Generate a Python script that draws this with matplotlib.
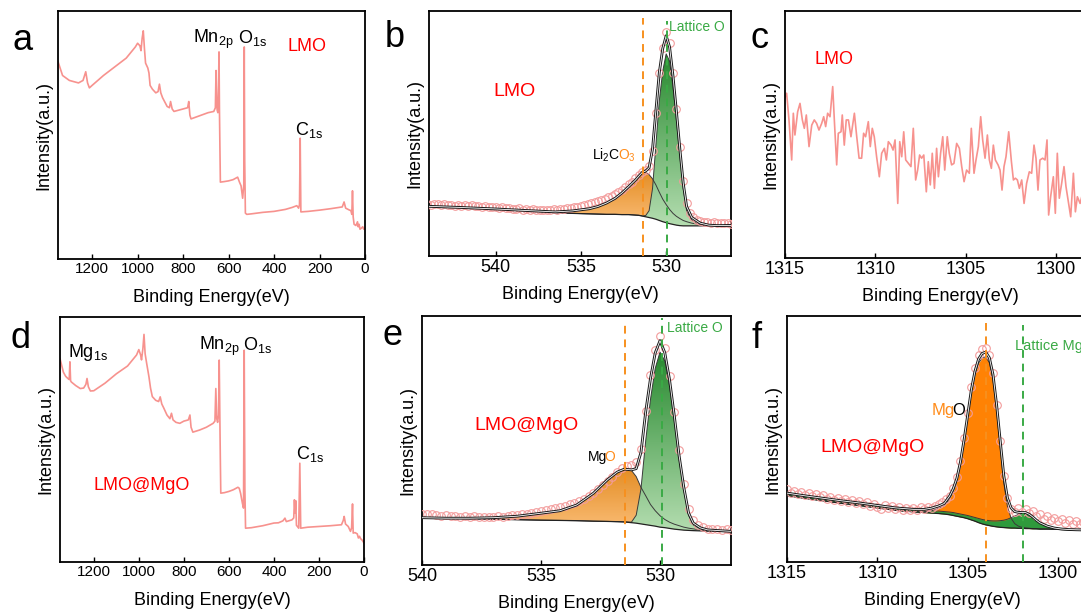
import numpy as np
import matplotlib
matplotlib.use('Agg')
import matplotlib.pyplot as plt
from matplotlib.patches import Polygon
from matplotlib.colors import LinearSegmentedColormap

plt.rcParams['font.family'] = ['Liberation Sans', 'DejaVu Sans']
plt.rcParams['mathtext.fontset'] = 'custom'
plt.rcParams['mathtext.rm'] = 'Liberation Sans'
plt.rcParams['mathtext.it'] = 'Liberation Sans:italic'

# ---------------- survey spectra (a, d) ----------------
surv_a_E = [1350, 1330, 1300, 1280, 1260, 1240, 1228, 1220, 1212, 1200,
            1150, 1100, 1050, 1010, 1000, 990, 985, 980, 975, 970,
            965, 955, 950, 945, 935, 920, 910, 904, 898, 890,
            870, 860, 855, 848, 840, 820, 800, 780, 775, 770,
            765, 750, 720, 690, 665, 658, 655, 652, 650, 647,
            644, 642, 640, 638, 636, 620, 600, 580, 560, 552,
            545, 538, 533, 531, 529, 526, 520, 500, 450, 400,
            350, 320, 300, 292, 288, 285, 282, 280, 250, 200,
            150, 100, 92, 85, 70, 62, 58, 55, 52, 48,
            40, 33, 30, 26, 22, 15, 10, 5, 0]
surv_a_I = [79.6, 74.0, 72.0, 71.5, 71.0, 72.0, 75.5, 71.0, 69.0, 70.0,
            74.0, 77.5, 81.0, 85.5, 87.0, 86.0, 84.0, 89.0, 92.0, 85.0,
            79.0, 77.0, 75.0, 70.0, 68.5, 67.0, 67.5, 70.5, 67.0, 65.0,
            61.5, 61.0, 63.5, 60.5, 59.5, 60.0, 60.5, 61.0, 63.5, 58.0,
            56.5, 57.0, 58.0, 59.0, 59.5, 61.0, 76.0, 62.0, 60.0, 59.0,
            70.0, 83.5, 60.0, 45.0, 31.0, 31.2, 31.5, 32.0, 33.0, 31.0,
            29.5, 24.5, 30.0, 85.5, 40.0, 18.5, 18.0, 18.2, 18.8, 19.2,
            20.0, 20.8, 21.5, 20.5, 22.0, 48.7, 19.0, 19.0, 19.2, 19.7,
            20.3, 21.0, 23.0, 20.5, 19.8, 19.5, 18.0, 27.5, 17.0, 14.0,
            13.5, 15.0, 13.0, 14.0, 12.0, 12.5, 13.0, 12.0, 12.3]

surv_d_E = [1350, 1335, 1325, 1315, 1309, 1306, 1303, 1300, 1280, 1260,
            1245, 1235, 1230, 1224, 1215, 1200, 1150, 1100, 1050, 1010,
            1000, 992, 988, 982, 977, 972, 965, 955, 948, 940,
            925, 912, 905, 898, 890, 875, 862, 855, 848, 835,
            818, 800, 780, 773, 768, 760, 729, 700, 670, 662,
            658, 654, 650, 646, 643, 640, 638, 636, 620, 600,
            580, 560, 554, 548, 540, 535, 532, 529, 526, 500,
            450, 400, 380, 360, 351, 345, 320, 312, 309, 306,
            303, 300, 290, 285, 281, 250, 200, 150, 100, 92,
            88, 82, 70, 60, 55, 51, 48, 40, 30, 25,
            20, 15, 10, 5, 0]
surv_d_I = [83.0, 77.5, 75.8, 74.9, 74.5, 81.7, 74.0, 73.5, 72.0, 70.8,
            71.0, 72.5, 74.9, 71.5, 69.8, 69.9, 73.0, 76.8, 80.0, 84.5,
            86.7, 84.5, 82.5, 87.0, 92.9, 85.0, 81.0, 75.6, 71.0, 67.5,
            66.0, 65.5, 67.4, 64.5, 63.0, 60.0, 58.5, 60.7, 58.0, 57.0,
            56.6, 57.5, 58.0, 60.0, 55.0, 53.0, 53.9, 55.0, 56.6, 57.5,
            70.8, 58.5, 57.0, 60.0, 82.4, 58.0, 42.0, 28.1, 28.3, 28.8,
            29.5, 30.5, 30.1, 28.0, 24.0, 22.0, 86.4, 30.0, 13.8, 14.0,
            14.8, 15.9, 16.0, 16.8, 17.9, 16.5, 17.2, 18.0, 25.4, 20.0,
            25.0, 15.0, 13.8, 40.3, 13.8, 14.2, 14.5, 14.8, 15.2, 17.0,
            18.6, 15.5, 14.5, 12.5, 14.0, 23.7, 11.8, 12.0, 11.5, 9.8,
            10.5, 9.5, 9.1, 8.5, 7.7]

# ---------------- O 1s, LMO (b) ----------------
b_E = [544, 542, 540, 538, 536.5, 535.5, 534.5, 534, 533.5, 533,
       532.6, 532.2, 531.8, 531.6, 531.4, 531.2, 531.0, 530.8, 530.6, 530.4,
       530.2, 530.0, 529.8, 529.6, 529.4, 529.2, 529.0, 528.8, 528.5, 528.0,
       527.5, 527, 526]
b_bg = [20.3, 19.8, 19.2, 18.4, 17.7, 17.4, 17.2, 17.1, 17.0, 17.0,
        16.9, 16.9, 16.7, 16.6, 16.3, 16.0, 15.7, 15.4, 15.0, 14.5,
        14.0, 13.6, 13.2, 12.9, 12.6, 12.4, 12.3, 12.3, 12.3, 12.3,
        12.4, 12.4, 12.5]
b_li2co3 = [20.3, 19.8, 19.2, 18.5, 18.0, 18.4, 19.3, 20.2, 21.6, 23.5,
            25.7, 28.3, 31.0, 32.6, 34.0, 34.2, 33.2, 31.5, 29.0, 26.0,
            23.2, 21.0, 19.0, 17.4, 16.2, 15.3, 14.5, 14.0, 13.4, 12.8,
            12.5, 12.4, 12.5]
b_latt = [20.3, 19.8, 19.2, 18.4, 17.7, 17.4, 17.2, 17.1, 17.0, 17.0,
          16.9, 16.9, 16.7, 16.6, 16.4, 16.5, 18.5, 27.5, 45.5, 63.5,
          75.5, 82.5, 79.5, 69.0, 55.5, 41.0, 27.5, 18.5, 14.6, 12.9,
          12.5, 12.4, 12.5]
b_scan_start = 544.0
b_scan = [21.3, 21.0, 21.4, 21.1, 20.8, 21.2, 20.9, 21.0, 20.6, 20.9,
          20.5, 20.8, 20.4, 20.7, 20.3, 20.6, 20.1, 20.4, 19.9, 20.2,
          19.8, 19.6, 19.9, 19.4, 19.7, 19.3, 19.0, 19.4, 18.9, 19.2,
          18.8, 19.1, 18.7, 18.9, 18.6, 18.9, 18.7, 19.0, 18.8, 19.2,
          19.0, 19.4, 19.6, 19.8, 20.2, 20.4, 20.9, 21.2, 21.5, 22.0,
          22.3, 22.9, 23.4, 23.9, 24.6, 25.2, 26.0, 26.9, 28.0, 29.2,
          30.4, 31.8, 33.0, 34.4, 35.3, 36.8, 43.0, 58.5, 74.5, 85.0,
          91.5, 87.0, 74.5, 60.0, 44.5, 30.5, 21.5, 17.5, 15.8, 14.8,
          14.2, 13.8, 13.9, 13.5, 13.7, 13.4, 13.6, 13.3, 13.5, 13.2,
          13.4]

# ---------------- Mg 1s, LMO (c) ----------------
c_E = [1315.00, 1314.91, 1314.78, 1314.63, 1314.54, 1314.45, 1314.30, 1314.17, 1314.04, 1313.93, 1313.82,
       1313.67, 1313.52, 1313.38, 1313.25, 1313.12, 1312.97, 1312.86, 1312.75, 1312.64, 1312.51,
       1312.36, 1312.27, 1312.14, 1312.05, 1311.90, 1311.83, 1311.72, 1311.61, 1311.49, 1311.35,
       1311.16, 1311.03, 1310.90, 1310.76, 1310.65, 1310.54, 1310.39, 1310.28, 1310.17, 1310.06,
       1309.93, 1309.78, 1309.65, 1309.50, 1309.39, 1309.28, 1309.13, 1309.02, 1308.91, 1308.76,
       1308.65, 1308.54, 1308.43, 1308.32, 1308.17, 1308.03, 1307.90, 1307.77, 1307.66, 1307.55,
       1307.44, 1307.32, 1307.18, 1307.07, 1306.96, 1306.85, 1306.73,
       1306.61, 1306.51, 1306.39, 1306.27, 1306.16, 1306.02, 1305.91, 1305.78, 1305.65, 1305.50,
       1305.35, 1305.22, 1305.09, 1304.95, 1304.80, 1304.69, 1304.54, 1304.43, 1304.30, 1304.17,
       1304.06, 1303.93, 1303.80, 1303.69, 1303.58, 1303.47, 1303.36, 1303.21, 1303.10, 1302.99,
       1302.88, 1302.77, 1302.62, 1302.47, 1302.36, 1302.25, 1302.14, 1302.03, 1301.90, 1301.77,
       1301.63, 1301.48, 1301.35, 1301.22, 1301.11, 1301.00, 1300.89, 1300.74, 1300.61, 1300.50,
       1300.41, 1300.30, 1300.15, 1300.04, 1299.93, 1299.82, 1299.69, 1299.56, 1299.45, 1299.32,
       1299.19, 1299.04, 1298.93, 1298.82, 1298.67, 1298.50]
c_I = [65.0, 66.7, 55.9, 39.7, 58.6, 49.8, 59.2, 62.6, 55.9, 52.5, 57.9,
       45.1, 53.8, 55.9, 54.5, 51.8, 54.5, 57.2, 53.2, 58.6, 57.2,
       69.4, 55.9, 37.7, 50.5, 51.1, 57.9, 45.7, 55.9, 55.9, 49.1,
       58.6, 49.1, 40.4, 40.4, 50.5, 49.1, 55.2, 45.1, 52.5, 49.1,
       41.0, 32.9, 42.4, 44.4, 39.7, 47.1, 45.7, 43.7, 47.8, 22.1,
       47.1, 41.0, 51.1, 39.7, 38.3, 37.0, 52.5, 31.6, 35.6, 41.7,
       40.4, 41.7, 26.8, 39.0, 29.6, 42.4, 28.2,
       44.4, 32.9, 42.4, 49.1, 35.6, 49.1, 42.4, 37.7, 38.3, 46.4,
       44.4, 37.0, 30.9, 35.6, 34.3, 52.5, 34.3, 39.7, 45.1, 57.2,
       47.8, 40.4, 49.8, 39.7, 36.3, 45.7, 39.7, 37.7, 35.6, 27.5,
       37.0, 41.0, 51.1, 39.0, 31.6, 32.3, 31.6, 28.2, 31.6, 22.1,
       30.2, 34.9, 34.3, 45.7, 40.4, 27.5, 39.7, 40.4, 39.7, 47.8,
       17.4, 24.8, 32.9, 18.1, 42.4, 24.2, 30.2, 37.0, 28.9, 22.8,
       16.7, 34.3, 18.7, 24.8, 22.1, 27.0]

# ---------------- O 1s, LMO@MgO (e) ----------------
e_E = [540, 539, 538, 537, 536, 535, 534.2, 533.5, 532.8, 532.2,
       531.8, 531.5, 531.2, 531.0, 530.8, 530.6, 530.4, 530.2, 530.0, 529.8,
       529.6, 529.4, 529.2, 529.0, 528.8, 528.6, 528.3, 528, 527]
e_bg = [19.0, 18.8, 18.6, 18.4, 18.2, 18.0, 17.9, 17.8, 17.6, 17.5,
        17.4, 17.3, 17.0, 16.8, 16.5, 16.2, 15.9, 15.6, 15.2, 15.0,
        14.7, 14.4, 14.2, 14.0, 13.9, 13.8, 13.7, 13.6, 13.4]
e_mgo = [19.0, 18.8, 18.8, 19.0, 19.6, 20.8, 21.8, 24.1, 28.8, 34.3,
         37.3, 38.5, 38.0, 35.5, 31.2, 27.8, 24.3, 21.8, 19.8, 18.3,
         17.2, 16.4, 15.8, 15.2, 14.8, 14.5, 14.1, 13.9, 13.5]
e_latt = [19.0, 18.8, 18.6, 18.4, 18.2, 18.0, 17.9, 17.8, 17.6, 17.5,
          17.4, 17.3, 17.2, 20.0, 30.5, 50.0, 66.5, 79.0, 85.5, 82.0,
          72.0, 58.0, 42.5, 30.0, 20.0, 16.1, 14.5, 13.8, 13.4]
e_scan_start = 540.0
e_scan = [20.6, 20.3, 20.5, 20.1, 19.8, 20.0, 19.6, 19.8, 19.4, 19.6,
          19.3, 19.5, 19.2, 19.4, 19.1, 19.4, 19.6, 19.4, 19.8, 20.0,
          20.2, 20.5, 20.4, 20.9, 21.2, 21.6, 22.0, 22.4, 22.8, 23.3,
          23.8, 24.4, 25.0, 25.8, 26.7, 27.7, 28.9, 30.4, 32.0, 33.8,
          35.5, 37.3, 38.8, 39.8, 40.3, 41.5, 46.5, 62.0, 76.5, 86.5,
          92.0, 87.0, 76.0, 61.5, 46.0, 32.5, 22.5, 18.0, 16.0, 15.2,
          14.6, 14.3, 14.5, 14.1, 14.3, 14.0]

# ---------------- Mg 1s, LMO@MgO (f) ----------------
f_E = [1315, 1314, 1313, 1312, 1311, 1310, 1309, 1308, 1307.4, 1307,
       1306.6, 1306.3, 1306, 1305.8, 1305.6, 1305.4, 1305.2, 1305.0, 1304.8, 1304.6,
       1304.4, 1304.2, 1304.0, 1303.8, 1303.6, 1303.4, 1303.2, 1303.0, 1302.8, 1302.6,
       1302.4, 1302.2, 1302.0, 1301.8, 1301.6, 1301.4, 1301.2, 1301.0, 1300.6, 1300.2,
       1299.8, 1299.4, 1299, 1298.4]
f_bg = [27.0, 25.9, 24.9, 23.9, 23.0, 22.0, 21.0, 20.4, 20.1, 19.9,
        19.7, 19.5, 19.2, 18.9, 18.6, 18.3, 18.0, 17.6, 17.1, 16.6,
        16.0, 15.5, 15.1, 14.8, 14.5, 14.3, 14.1, 14.0, 13.9, 13.8,
        13.8, 13.7, 13.7, 13.6, 13.6, 13.5, 13.5, 13.4, 13.4, 13.3,
        13.2, 13.1, 13.1, 13.0]
f_mgo = [27.0, 25.9, 24.9, 23.9, 23.0, 22.0, 21.0, 20.4, 20.4, 20.9,
         21.8, 22.8, 25.7, 28.6, 32.8, 39.5, 48.5, 58.5, 68.5, 76.0,
         80.8, 83.0, 83.4, 81.0, 74.0, 61.5, 46.5, 32.0, 22.5, 17.8,
         15.6, 14.6, 14.1, 13.9, 13.7, 13.6, 13.5, 13.4, 13.4, 13.3,
         13.2, 13.1, 13.1, 13.0]
f_latt = [28.0, 26.9, 25.9, 24.9, 24.0, 23.0, 22.0, 21.4, 21.1, 20.9,
          20.7, 20.5, 20.3, 20.1, 19.8, 19.5, 19.2, 18.9, 18.5, 18.1,
          17.7, 17.3, 17.0, 16.8, 16.7, 16.7, 16.8, 17.0, 17.4, 18.0,
          18.7, 19.3, 19.7, 19.8, 19.3, 18.2, 17.0, 15.9, 14.6, 13.8,
          13.4, 13.2, 13.1, 13.0]
f_scan_start = 1315.0
f_scan = [29.5, 28.2, 29.0, 27.8, 28.6, 27.4, 28.0, 26.9, 27.6, 26.5,
          27.2, 25.8, 26.6, 25.4, 26.0, 24.8, 25.6, 24.3, 25.1, 23.8,
          24.6, 23.4, 24.2, 22.8, 23.6, 22.4, 21.5, 23.0, 21.8, 22.6,
          21.4, 22.3, 21.0, 21.9, 21.2, 22.0, 21.3, 22.2, 21.5, 22.4,
          21.8, 22.9, 23.5, 24.3, 25.6, 27.0, 30.0, 34.5, 41.0, 50.5,
          60.5, 71.0, 79.0, 84.0, 86.5, 86.8, 84.0, 77.0, 64.0, 49.0,
          35.0, 26.0, 21.5, 20.5, 21.8, 20.2, 21.4, 19.8, 20.6, 18.5,
          19.5, 17.6, 18.8, 16.9, 18.0, 16.5, 17.4, 15.8, 17.0, 15.5,
          16.6, 15.3, 16.2, 15.0]
scan_step = 0.2

# peak positions (dashed markers)
b_peaks = [531.33, 529.96]
e_peaks = [531.47, 529.93]
f_peaks = [1303.99, 1301.92]

SURVEY = '#F7928E'
PINK = '#F39C9C'
ORANGE_TXT = '#FF8C1A'
GREEN_TXT = '#3AAA45'
W, H = 1081, 613


def box(l, t, w, h):
    return [l / W, 1 - (t + h) / H, w / W, h / H]


def style(ax, w, h, xlim, ticks, tsize, xc=0.5):
    ax.set_xlim(*xlim)
    ax.set_ylim(0, 100)
    ax.set_yticks([])
    ax.set_xticks(ticks)
    ax.tick_params(axis='x', direction='in', length=3.5, width=1.0,
                   labelsize=tsize, pad=2.5)
    for s in ax.spines.values():
        s.set_linewidth(1.3)
    ax.set_xlabel('Binding Energy(eV)', fontsize=13)
    ax.set_ylabel('Intensity(a.u.)', fontsize=13)
    ax.xaxis.set_label_coords(xc, -30.0 / h)
    ax.yaxis.set_label_coords(-5.7 / w, 0.5)


def gradient_fill(ax, x, lo, hi, c_top, c_bot, z):
    x = np.asarray(x); lo = np.asarray(lo); hi = np.asarray(hi)
    verts = np.column_stack([np.r_[x, x[::-1]], np.r_[hi, lo[::-1]]])
    patch = Polygon(verts, closed=True, fc='none', ec='none', transform=ax.transData)
    ax.add_patch(patch)
    cmap = LinearSegmentedColormap.from_list('g', [c_bot, c_top])
    im = ax.imshow(np.linspace(0, 1, 128).reshape(-1, 1), cmap=cmap, origin='lower',
                   aspect='auto', extent=[x.min(), x.max(), lo.min(), hi.max()],
                   zorder=z, interpolation='bilinear')
    im.set_clip_path(patch)


def fit_panel(ax, E, bg, c1, c2, scan_start, scan, peaks, ytop, gradient=True):
    E = np.asarray(E); bg = np.asarray(bg); c1 = np.asarray(c1); c2 = np.asarray(c2)
    if gradient:
        gradient_fill(ax, E, bg, c1, '#E48E26', '#FBBE78', 2)
        gradient_fill(ax, E, bg, c2, '#27892F', '#B4DDB0', 3)
    else:
        ax.fill_between(E, bg, c1, color='#FF8204', lw=0, zorder=2)
        ax.fill_between(E, bg, c2, color='#2F9A3C', lw=0, zorder=3)
    ax.plot(E, c1, color='#3a3a3a', lw=0.7, zorder=4)
    ax.plot(E, c2, color='#3a3a3a', lw=0.7, zorder=4)
    ax.plot(E, bg, color='#222222', lw=0.9, zorder=4)
    sE = scan_start - scan_step * np.arange(len(scan))
    ax.plot(sE, scan, 'o', mfc='none', mec=PINK, ms=5.5, mew=0.8, zorder=5)
    env = c1 + c2 - bg
    ax.plot(E, env, color='#1a1a1a', lw=2.0, zorder=6)
    ax.plot(E, env, color='white', lw=0.6, zorder=7)
    ax.axvline(peaks[0], 0, ytop[0], color='#F7901E', ls=(0, (4, 3)), lw=1.4, zorder=8)
    ax.axvline(peaks[1], 0, ytop[1], color='#3AAA45', ls=(0, (4, 3)), lw=1.4, zorder=8)


def two_tone(ax, parts, xy, size):
    # pieces of one label in different colours, set side by side on one baseline
    r = fig.canvas.get_renderer()
    x, y = xy
    for s, c in parts:
        t = ax.text(x, y, s, transform=ax.transAxes, fontsize=size, color=c,
                    va='baseline', ha='left', zorder=10)
        bb = t.get_window_extent(r)
        x = ax.transAxes.inverted().transform((bb.x1 - 3.0, bb.y0))[0]


fig = plt.figure(figsize=(W / 100, H / 100), dpi=100)

# a
ax = fig.add_axes(box(58, 11, 307, 248))
ax.plot(surv_a_E, surv_a_I, color=SURVEY, lw=1.2)
style(ax, 307, 248, (1350, 0), [1200, 1000, 800, 600, 400, 200, 0], 11)
ax.text(0.44, 0.87, r'$\mathregular{Mn_{2p}}$', transform=ax.transAxes, fontsize=13, va='baseline')
ax.text(0.586, 0.87, r'$\mathregular{O_{1s}}$', transform=ax.transAxes, fontsize=13, va='baseline')
ax.text(0.772, 0.50, r'$\mathregular{C_{1s}}$', transform=ax.transAxes, fontsize=13, va='baseline')
ax.text(0.746, 0.84, 'LMO', transform=ax.transAxes, fontsize=13, color='red', va='baseline')

# b
ax = fig.add_axes(box(429, 11, 302, 245))
fit_panel(ax, b_E, b_bg, b_li2co3, b_latt, b_scan_start, b_scan, b_peaks, (0.97, 0.96))
style(ax, 302, 245, (543.9, 526.2), [540, 535, 530], 13)
ax.text(0.2145, 0.653, 'LMO', transform=ax.transAxes, fontsize=14, color='red', va='baseline')
two_tone(ax, [('Li$_2$C', 'black'), ('O$_3$', ORANGE_TXT)], (0.541, 0.392), 10)
ax.text(0.795, 0.935, 'Lattice O', transform=ax.transAxes, fontsize=10, color=GREEN_TXT, va='center')

# c
ax = fig.add_axes(box(785, 11, 361.4, 247))
ax.plot(c_E, c_I, color=SURVEY, lw=1.2)
style(ax, 361.4, 247, (1315, 1295), [1315, 1310, 1305, 1300], 13, xc=0.429)
ax.text(0.083, 0.784, 'LMO', transform=ax.transAxes, fontsize=13, color='red', va='baseline')

# d
ax = fig.add_axes(box(60, 317, 304, 245))
ax.plot(surv_d_E, surv_d_I, color=SURVEY, lw=1.2)
style(ax, 304, 245, (1350, 0), [1200, 1000, 800, 600, 400, 200, 0], 11)
ax.text(0.026, 0.838, r'$\mathregular{Mg_{1s}}$', transform=ax.transAxes, fontsize=13, va='baseline')
ax.text(0.457, 0.865, r'$\mathregular{Mn_{2p}}$', transform=ax.transAxes, fontsize=13, va='baseline')
ax.text(0.602, 0.865, r'$\mathregular{O_{1s}}$', transform=ax.transAxes, fontsize=13, va='baseline')
ax.text(0.776, 0.419, r'$\mathregular{C_{1s}}$', transform=ax.transAxes, fontsize=13, va='baseline')
ax.text(0.109, 0.294, 'LMO@MgO', transform=ax.transAxes, fontsize=13, color='red', va='baseline')

# e
ax = fig.add_axes(box(422, 316, 309.4, 249))
fit_panel(ax, e_E, e_bg, e_mgo, e_latt, e_scan_start, e_scan, e_peaks, (0.976, 0.99))
style(ax, 309.4, 249, (540, 527), [540, 535, 530], 13)
ax.text(0.168, 0.542, 'LMO@MgO', transform=ax.transAxes, fontsize=14, color='red', va='baseline')
two_tone(ax, [('Mg', 'black'), ('O', ORANGE_TXT)], (0.5365, 0.418), 10)
ax.text(0.792, 0.952, 'Lattice O', transform=ax.transAxes, fontsize=10, color=GREEN_TXT, va='center')

# f
ax = fig.add_axes(box(787, 316, 361.4, 246))
fit_panel(ax, f_E, f_bg, f_mgo, f_latt, f_scan_start, f_scan, f_peaks, (0.97, 0.963), gradient=False)
style(ax, 361.4, 246, (1315, 1295), [1315, 1310, 1305, 1300], 13, xc=0.429)
ax.text(0.0913, 0.448, 'LMO@MgO', transform=ax.transAxes, fontsize=14, color='red', va='baseline')
two_tone(ax, [('Mg', ORANGE_TXT), ('O', 'black')], (0.401, 0.598), 12)
ax.text(0.631, 0.878, 'Lattice Mg', transform=ax.transAxes, fontsize=10.5, color=GREEN_TXT, va='center')

# panel letters
for letter, x, y in [('a', 12, 50), ('b', 385, 47), ('c', 750, 48),
                     ('d', 10, 348), ('e', 383, 345), ('f', 752, 348)]:
    fig.text(x / W, 1 - y / H, letter, fontsize=26, va='baseline')

fig.savefig('out.png', dpi=100)
